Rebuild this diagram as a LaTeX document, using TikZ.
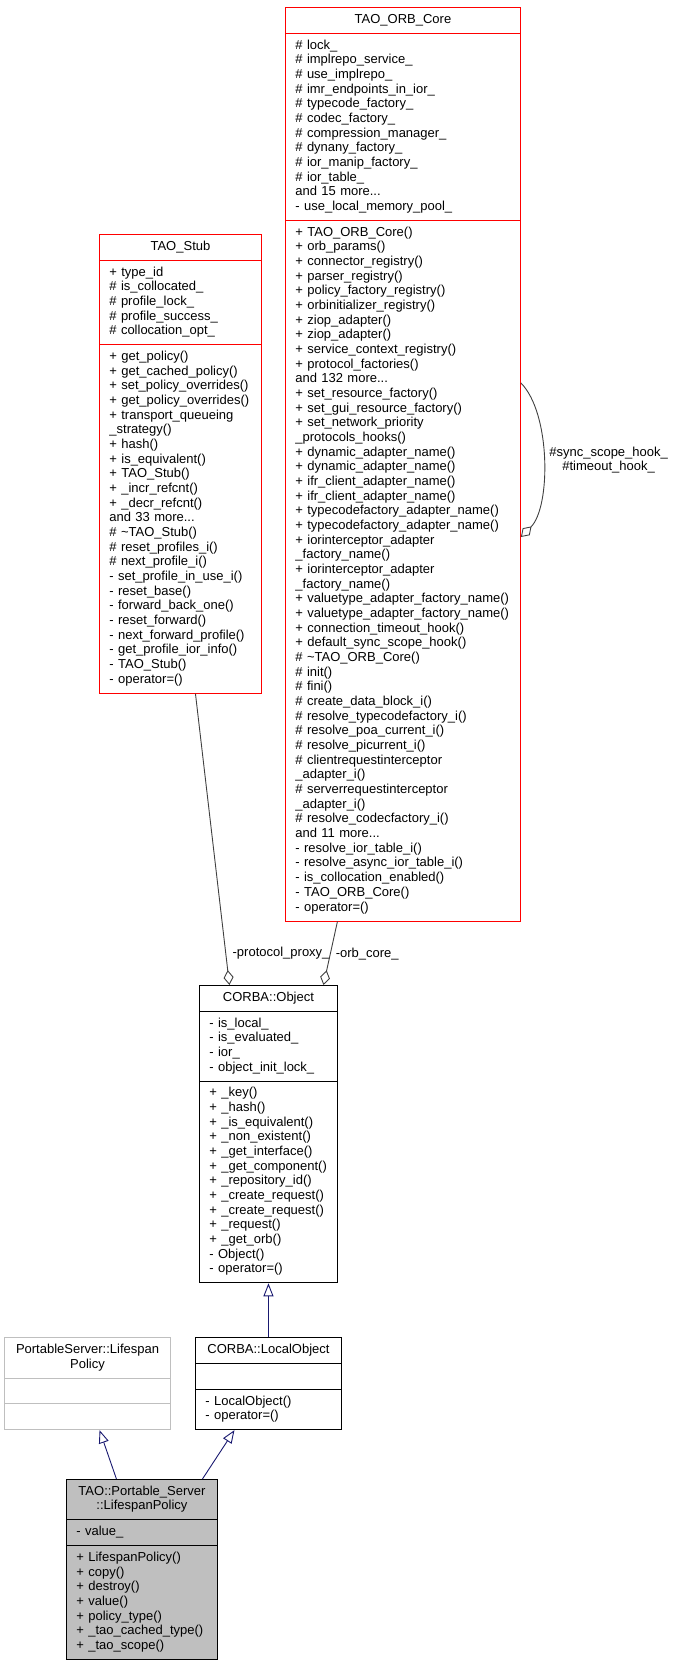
\documentclass[tikz,border=0pt]{standalone}
\usepackage{fontspec}
\setmainfont{Liberation Sans}
\usetikzlibrary{arrows.meta,positioning,shapes.multipart}
\definecolor{edgeblue}{HTML}{191970}
\definecolor{edgegray}{HTML}{404040}
\definecolor{boxgray}{HTML}{BFBFBF}

\begin{document}
\begin{tikzpicture}[
  x=1pt, y=-1pt,
  node distance=54pt and 24pt,
  cls/.style={rectangle split, rectangle split parts=3, draw, line width=0.9pt,
    inner xsep=10pt, inner ysep=5.1pt, align=left,
    font=\fontsize{13}{14.67}\selectfont,
    every text node part/.style={align=center},
    every two node part/.style={align=left},
    every three node part/.style={align=left}},
  inh/.style={-{Triangle[open,length=13pt,width=10pt]}, draw=edgeblue, line width=0.9pt},
  agg/.style={{Diamond[open,length=15pt,width=10pt]}-, draw=edgegray, line width=0.9pt},
  lbl/.style={font=\fontsize{13}{13.3}\selectfont, inner sep=0pt, align=center}
]
\useasboundingbox (0,0) rectangle (673,1664);

\node[cls, draw=red, text width=215pt, anchor=north west] (orb) at (285,7) {\strut TAO\_ORB\_Core
\nodepart{two}\strut\# lock\_\\\# implrepo\_service\_\\\# use\_implrepo\_\\\# imr\_endpoints\_in\_ior\_\\
\# typecode\_factory\_\\\# codec\_factory\_\\\# compression\_manager\_\\\# dynany\_factory\_\\
\# ior\_manip\_factory\_\\\# ior\_table\_\\and 15 more...\\\strut- use\_local\_memory\_pool\_
\nodepart{three}\strut+ TAO\_ORB\_Core()\\+ orb\_params()\\+ connector\_registry()\\+ parser\_registry()\\
+ policy\_factory\_registry()\\+ orbinitializer\_registry()\\+ ziop\_adapter()\\+ ziop\_adapter()\\
+ service\_context\_registry()\\+ protocol\_factories()\\and 132 more...\\+ set\_resource\_factory()\\
+ set\_gui\_resource\_factory()\\+ set\_network\_priority\\\_protocols\_hooks()\\
+ dynamic\_adapter\_name()\\+ dynamic\_adapter\_name()\\+ ifr\_client\_adapter\_name()\\
+ ifr\_client\_adapter\_name()\\+ typecodefactory\_adapter\_name()\\+ typecodefactory\_adapter\_name()\\
+ iorinterceptor\_adapter\\\_factory\_name()\\+ iorinterceptor\_adapter\\\_factory\_name()\\
+ valuetype\_adapter\_factory\_name()\\+ valuetype\_adapter\_factory\_name()\\
+ connection\_timeout\_hook()\\+ default\_sync\_scope\_hook()\\\# \textasciitilde TAO\_ORB\_Core()\\
\# init()\\\# fini()\\\# create\_data\_block\_i()\\\# resolve\_typecodefactory\_i()\\
\# resolve\_poa\_current\_i()\\\# resolve\_picurrent\_i()\\\# clientrequestinterceptor\\\_adapter\_i()\\
\# serverrequestinterceptor\\\_adapter\_i()\\\# resolve\_codecfactory\_i()\\and 11 more...\\
- resolve\_ior\_table\_i()\\- resolve\_async\_ior\_table\_i()\\- is\_collocation\_enabled()\\
- TAO\_ORB\_Core()\\\strut- operator=()};

\node[cls, draw=red, text width=142pt, anchor=north west] (stub) at (99,234) {\strut TAO\_Stub
\nodepart{two}\strut+ type\_id\\\# is\_collocated\_\\\# profile\_lock\_\\\# profile\_success\_\\\strut\# collocation\_opt\_
\nodepart{three}\strut+ get\_policy()\\+ get\_cached\_policy()\\+ set\_policy\_overrides()\\+ get\_policy\_overrides()\\
+ transport\_queueing\\\_strategy()\\+ hash()\\+ is\_equivalent()\\+ TAO\_Stub()\\+ \_incr\_refcnt()\\
+ \_decr\_refcnt()\\and 33 more...\\\# \textasciitilde TAO\_Stub()\\\# reset\_profiles\_i()\\\# next\_profile\_i()\\
- set\_profile\_in\_use\_i()\\- reset\_base()\\- forward\_back\_one()\\- reset\_forward()\\
- next\_forward\_profile()\\- get\_profile\_ior\_info()\\- TAO\_Stub()\\\strut- operator=()};

\node[cls, text width=118pt, anchor=north west] (obj) at (199,985) {\strut CORBA::Object
\nodepart{two}\strut- is\_local\_\\- is\_evaluated\_\\- ior\_\\\strut- object\_init\_lock\_
\nodepart{three}\strut+ \_key()\\+ \_hash()\\+ \_is\_equivalent()\\+ \_non\_existent()\\+ \_get\_interface()\\
+ \_get\_component()\\+ \_repository\_id()\\+ \_create\_request()\\+ \_create\_request()\\+ \_request()\\
+ \_get\_orb()\\- Object()\\\strut- operator=()};

\node[cls, text width=126pt, below=of obj] (lobj) {\strut CORBA::LocalObject
\nodepart{two}\strut
\nodepart{three}\strut- LocalObject()\\\strut- operator=()};

\node[cls, draw=boxgray, text width=146pt, left=of lobj] (psl) {\strut PortableServer::Lifespan\\\strut Policy
\nodepart{two}\strut
\nodepart{three}\strut};

\node[cls, fill=boxgray, text width=131pt, anchor=north west] (tlp) at (66,1479) {\strut TAO::Portable\_Server\\\strut ::LifespanPolicy
\nodepart{two}\strut- value\_
\nodepart{three}\strut+ LifespanPolicy()\\+ copy()\\+ destroy()\\+ value()\\+ policy\_type()\\
+ \_tao\_cached\_type()\\\strut+ \_tao\_scope()};

\draw[inh] (lobj) -- (obj);
\draw[inh] ([xshift=-25.5pt]tlp.north) -- ([xshift=12pt]psl.south);
\draw[inh] ([xshift=60.5pt]tlp.north) -- ([xshift=-34pt]lobj.south);

\draw[agg] ([xshift=-39pt]obj.north) -- node[lbl, pos=0.11, right=6.5pt] {-protocol\_proxy\_} ([xshift=15pt]stub.south);
\draw[agg] ([xshift=55pt]obj.north) -- node[lbl, pos=0.49, right=5pt] {-orb\_core\_} ([xshift=-65.5pt]orb.south);

\coordinate (hookin) at ([yshift=-530pt]orb.north east);
\coordinate (hookout) at ([yshift=-376pt]orb.north east);
\draw[agg] (hookin) .. controls ([shift={(30,-30)}]hookin) and ([shift={(30,30)}]hookout) .. node[lbl, right=5.5pt] {\#sync\_scope\_hook\_\\\#timeout\_hook\_} (hookout);
\end{tikzpicture}
\end{document}
